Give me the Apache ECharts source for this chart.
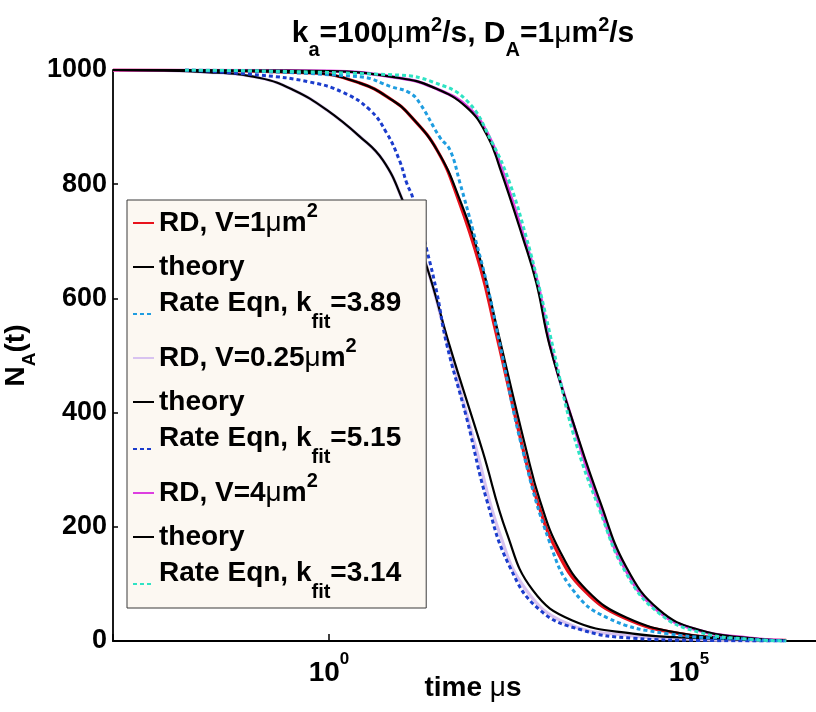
<!DOCTYPE html>
<html><head><meta charset="utf-8">
<script src="https://cdn.jsdelivr.net/npm/echarts@6/dist/echarts.min.js"></script>
<style>html,body{margin:0;padding:0;background:#fff}#c{width:816px;height:712px}</style>
</head><body><div id="c"></div>
<script>
// ---- data (time in microseconds, N_A(t)) ----
// V = 0.25 um^2
const tRD025   = [0.001, 0.022, 0.11, 0.32, 0.93, 2.7, 5.6, 10.5, 22.9, 46, 112, 234, 550, 1995, 14000, 130000, 2000000];
const nRD025   = [1000, 996, 986, 965, 930, 883, 842, 772, 655, 515, 334, 189, 89, 31, 10, 3, 0];
const tTh025   = [0.001, 0.022, 0.11, 0.32, 0.93, 2.7, 5.6, 10.5, 22.9, 47.9, 135, 295, 676, 2400, 16600, 144500, 2000000];
const nTh025   = [1000, 996, 986, 965, 930, 883, 842, 772, 655, 515, 334, 189, 89, 36, 13, 5, 1];
const tRate025 = [0.01, 0.11, 0.54, 1.55, 3.7, 6.3, 9.5, 12, 14.5, 22.9, 31.6, 42.7, 81, 155, 324, 851, 3311, 16600, 141000, 2240000];
const nRate025 = [1000, 991, 979, 961, 930, 890, 842, 802, 777, 684, 609, 522, 392, 247, 130, 54, 19, 5, 1, 0];
// V = 1 um^2
const tRD1     = [0.001, 0.54, 2.7, 7.6, 13.2, 31.6, 63, 126, 200, 500, 776, 1445, 3470, 12300, 75000, 692000, 2240000];
const nRD1     = [1000, 995, 977, 947, 921, 860, 772, 655, 550, 334, 246, 159, 89, 41, 13, 3, 1];
const tTh1     = [0.001, 0.54, 2.7, 7.6, 13.2, 31.6, 66, 135, 214, 550, 851, 1585, 3802, 13490, 81300, 692000, 2240000];
const nTh1     = [1000, 995, 977, 947, 921, 860, 772, 655, 550, 334, 246, 159, 89, 41, 13, 3, 1];
const tRate1   = [0.01, 2.7, 7.6, 13.2, 18.2, 34.7, 47.9, 66, 100, 155, 234, 490, 1175, 2455, 7244, 49000, 692000, 2240000];
const nRate1   = [1000, 988, 970, 960, 942, 882, 860, 802, 719, 627, 522, 334, 171, 89, 41, 13, 3, 0];
// V = 4 um^2
const tRD4     = [0.001, 1, 9.5, 27.5, 85, 165, 245, 510, 790, 1200, 2700, 5400, 12600, 36300, 132000, 692000, 2000000];
const nRD4     = [1000, 998, 986, 970, 935, 885, 830, 707, 627, 515, 364, 246, 129, 54, 19, 5, 1];
const tTh4     = [0.001, 1, 9.5, 27.5, 81, 158, 234, 490, 759, 1175, 2754, 5754, 13490, 38900, 141000, 692000, 2000000];
const nTh4     = [1000, 998, 986, 970, 935, 885, 830, 707, 627, 515, 364, 246, 129, 54, 19, 5, 1];
const tRate4   = [0.01, 9.5, 27.5, 81, 186, 324, 550, 851, 1288, 2455, 5754, 13490, 38900, 141000, 692000, 2240000];
const nRate4   = [1000, 991, 979, 947, 872, 802, 707, 614, 515, 364, 229, 118, 48, 15, 3, 0];

const yTicks = [0, 200, 400, 600, 800, 1000];
const xTickExponents = [0, 5];

const legendOrder = ['rd1', 'th1', 'rate1', 'rd025', 'th025', 'rate025', 'rd4', 'th4', 'rate4'];
const legendText = {
  rd1:    '{b|RD, V=1}{mu|\u03bc}{b|m}{sup|2}',
  th1:    '{b|theory}',
  rate1:  '{bt|Rate Eqn, k}{sub|fit}{bt|=3.89}',
  rd025:  '{b|RD, V=0.25}{mu|\u03bc}{b|m}{sup|2}',
  th025:  '{b|theory}',
  rate025:'{bt|Rate Eqn, k}{sub|fit}{bt|=5.15}',
  rd4:    '{b|RD, V=4}{mu|\u03bc}{b|m}{sup|2}',
  th4:    '{b|theory}',
  rate4:  '{bt|Rate Eqn, k}{sub|fit}{bt|=3.14}'
};

const FONT = '"Liberation Sans", Arial, Helvetica, sans-serif';
const pair = (t, n) => t.map((v, i) => [v, n[i]]);

const defs = [
  {id:'rd025', t:tRD025, n:nRD025, color:'#d8c3f0', width:3.2, dash:'solid'},
  {id:'rd1',   t:tRD1,   n:nRD1,   color:'#e8121c', width:3.2, dash:'solid'},
  {id:'rd4',   t:tRD4,   n:nRD4,   color:'#dd3ee0', width:3.2, dash:'solid'},
  {id:'th025', t:tTh025, n:nTh025, color:'#000000', width:2.2, dash:'solid'},
  {id:'th1',   t:tTh1,   n:nTh1,   color:'#000000', width:2.2, dash:'solid'},
  {id:'th4',   t:tTh4,   n:nTh4,   color:'#000000', width:2.2, dash:'solid'},
  {id:'rate025', t:tRate025, n:nRate025, color:'#1b3ccc', width:3, dash:[4,3]},
  {id:'rate1',   t:tRate1,   n:nRate1,   color:'#1f9de0', width:3, dash:[4,3]},
  {id:'rate4',   t:tRate4,   n:nRate4,   color:'#2fe3c4', width:3, dash:[4,3]}
];

const series = defs.map(d => ({
  name: d.id, type: 'line', data: pair(d.t, d.n),
  symbol: 'none', showSymbol: false, smooth: 0.45,
  lineStyle: {color: d.color, width: d.width, type: d.dash, cap: 'butt'},
  itemStyle: {color: d.color},
  emphasis: {disabled: true}
}));

const LH = 44;
const chart = echarts.init(document.getElementById('c'), null, {renderer: 'canvas'});
chart.setOption({
  animation: false,
  backgroundColor: '#ffffff',
  title: {
    text: '{t|k}{tsub|a}{t|=100}{tmu|\u03bc}{t|m}{tsup|2}{t|/s, D}{tsub|A}{t|=1}{tmu|\u03bc}{t|m}{tsup|2}{t|/s}',
    left: 463, top: 18, textAlign: 'center', padding: 0,
    textStyle: {
      rich: {
        t:    {fontFamily: FONT, fontSize: 30, fontWeight: 'bold', color: '#000', lineHeight: 50, height: 32, verticalAlign: 'top'},
        tmu:  {fontFamily: FONT, fontSize: 30, fontWeight: 'normal', color: '#000', lineHeight: 50, height: 32, verticalAlign: 'top'},
        tsup: {fontFamily: FONT, fontSize: 20, fontWeight: 'bold', color: '#000', lineHeight: 14, height: 14, verticalAlign: 'top'},
        tsub: {fontFamily: FONT, fontSize: 20, fontWeight: 'bold', color: '#000', lineHeight: 20, height: 36, verticalAlign: 'bottom'}
      }
    }
  },
  grid: {left: 113, right: -17, top: 70, bottom: 71, containLabel: false, outerBoundsMode: 'none'},
  xAxis: {
    type: 'log', logBase: 100000, min: 0.001, max: 10000000,
    name: '{b|time }{mu|\u03bc}{b|s}', nameLocation: 'middle', nameGap: 33, nameMoveOverlap: false,
    nameTextStyle: {
      rich: {
        b:  {fontFamily: FONT, fontSize: 28, fontWeight: 'bold', color: '#000'},
        mu: {fontFamily: FONT, fontSize: 28, fontWeight: 'normal', color: '#000'}
      }
    },
    axisLine: {show: true, onZero: false, lineStyle: {color: '#000', width: 2}},
    axisTick: {show: true, inside: true, length: 7, lineStyle: {color: '#000', width: 1.5}},
    minorTick: {show: false},
    splitLine: {show: false},
    axisLabel: {
      margin: 10,
      formatter: function (v) {
        const e = Math.log10(v), r = Math.round(e);
        if (Math.abs(e - r) < 1e-6 && xTickExponents.indexOf(r) >= 0) return '{b|10}{s|' + r + '}';
        return '';
      },
      rich: {
        b: {fontFamily: FONT, fontSize: 28, fontWeight: 'bold', color: '#000', lineHeight: 44, verticalAlign: 'middle'},
        s: {fontFamily: FONT, fontSize: 17, fontWeight: 'bold', color: '#000', lineHeight: 17, height: 17, verticalAlign: 'top'}
      }
    }
  },
  yAxis: {
    type: 'value', min: yTicks[0], max: yTicks[yTicks.length - 1], interval: 200,
    name: '{n|N}{s|A}{n|(t)}', nameLocation: 'middle', nameRotate: 90, nameGap: 69, nameMoveOverlap: false,
    nameTextStyle: {
      rich: {
        n: {fontFamily: FONT, fontSize: 28, fontWeight: 'bold', color: '#000', lineHeight: 42, height: 28, verticalAlign: 'top'},
        s: {fontFamily: FONT, fontSize: 19, fontWeight: 'bold', color: '#000', lineHeight: 20, height: 28, verticalAlign: 'bottom'}
      }
    },
    axisLine: {show: true, lineStyle: {color: '#000', width: 1.8}},
    axisTick: {show: true, inside: true, length: 5, lineStyle: {color: '#000', width: 1.5}},
    splitLine: {show: false},
    axisLabel: {margin: 6, fontFamily: FONT, fontSize: 27, fontWeight: 'bold', color: '#000',
      formatter: function (v) { return String(v); }}
  },
  legend: {
    show: true, orient: 'vertical', left: 127, top: 200,
    data: legendOrder, itemWidth: 21, itemHeight: 14, itemGap: 0,
    padding: [1, 25, 2, 5],
    backgroundColor: '#fcf8f2', borderColor: '#3a3a3a', borderWidth: 1, borderRadius: 0,
    selectedMode: false,
    itemStyle: {opacity: 0},
    formatter: function (name) { return legendText[name]; },
    textStyle: {
      fontFamily: FONT, fontSize: 28, fontWeight: 'bold', color: '#000', lineHeight: LH,
      rich: {
        b:   {fontFamily: FONT, fontSize: 28, fontWeight: 'bold', color: '#000', lineHeight: LH, verticalAlign: 'middle'},
        mu:  {fontFamily: FONT, fontSize: 28, fontWeight: 'normal', color: '#000', lineHeight: LH, verticalAlign: 'middle'},
        sup: {fontFamily: FONT, fontSize: 20, fontWeight: 'bold', color: '#000', lineHeight: 20, height: 21, verticalAlign: 'top'},
        bt:  {fontFamily: FONT, fontSize: 28, fontWeight: 'bold', color: '#000', lineHeight: LH, height: 22, verticalAlign: 'top'},
        sub: {fontFamily: FONT, fontSize: 20, fontWeight: 'bold', color: '#000', lineHeight: 20, height: 27, verticalAlign: 'bottom'}
      }
    }
  },
  series: series
});
</script></body></html>
